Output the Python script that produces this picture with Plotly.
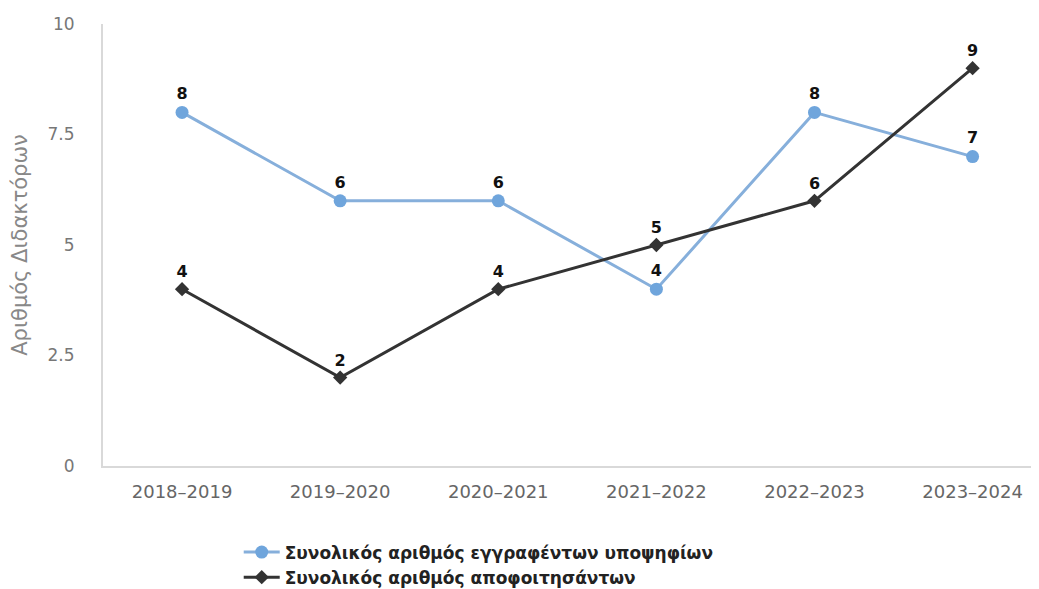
import plotly.graph_objects as go

years = ["2018–2019", "2019–2020", "2020–2021", "2021–2022", "2022–2023", "2023–2024"]
enrolled = [8, 6, 6, 4, 8, 7]
graduated = [4, 2, 4, 5, 6, 9]
y_ticks = [0, 2.5, 5, 7.5, 10]
y_tick_text = ["0", "2.5", "5", "7.5", "10"]

fig = go.Figure()
fig.add_trace(go.Scatter(
    x=years, y=enrolled, mode="lines+markers+text",
    name="Συνολικός αριθμός εγγραφέντων υποψηφίων",
    line=dict(color="#86afdb", width=3),
    marker=dict(symbol="circle", size=13, color="#6fa5dc"),
    text=[str(v) for v in enrolled], textposition="top center",
    textfont=dict(family="DejaVu Sans", size=16, color="#111111", weight="bold"),
))
fig.add_trace(go.Scatter(
    x=years, y=graduated, mode="lines+markers+text",
    name="Συνολικός αριθμός αποφοιτησάντων",
    line=dict(color="#333333", width=3),
    marker=dict(symbol="diamond", size=11, color="#333333"),
    text=[str(v) for v in graduated], textposition="top center",
    textfont=dict(family="DejaVu Sans", size=16, color="#111111", weight="bold"),
))

fig.update_layout(
    width=1031, height=581,
    margin=dict(l=95, r=0, t=16, b=123, autoexpand=False),
    paper_bgcolor="white", plot_bgcolor="white",
    font=dict(family="DejaVu Sans", color="#555555"),
    showlegend=True,
    legend=dict(
        orientation="v",
        x=0.145, y=-0.155, xanchor="left", yanchor="top",
        font=dict(family="DejaVu Sans", size=17, color="#222222", weight="bold"),
        tracegroupgap=0, itemwidth=36,
    ),
    xaxis=dict(
        range=[-0.5, 5.42], showgrid=False, showline=True, linecolor="#d9d9d9", linewidth=2,
        ticks="outside", ticklen=8, tickcolor="white", tickangle=0,
        tickfont=dict(size=18, color="#666666"), zeroline=False,
    ),
    yaxis=dict(
        range=[0, 10], tickvals=y_ticks, ticktext=y_tick_text, showgrid=False,
        showline=True, linecolor="#d9d9d9", linewidth=2, zeroline=False,
        ticks="outside", ticklen=23, tickcolor="white",
        tickfont=dict(size=17, color="#777777"),
        title=dict(text="Αριθμός Διδακτόρων", font=dict(size=21, color="#888888"), standoff=16),
    ),
)

fig.write_html("out.html")
